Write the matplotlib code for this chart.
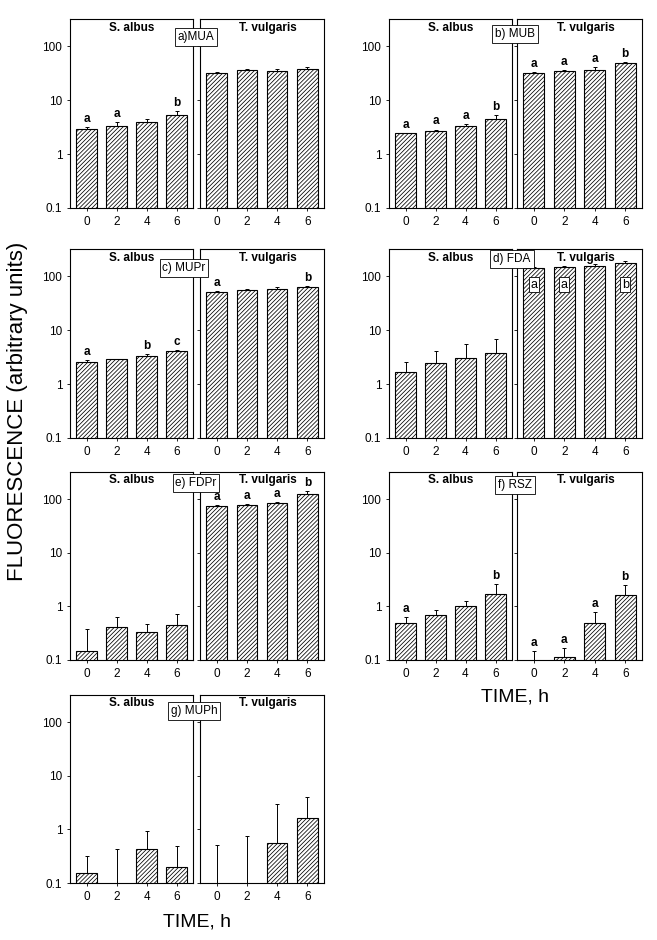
"""
fluorescence of S. albus / T. vulgaris over time, 7 substrates (log bars)
"""

import numpy as np
import matplotlib.pyplot as plt
from matplotlib.ticker import NullLocator

plt.rcParams['font.family'] = ['Liberation Sans', 'DejaVu Sans']
plt.rcParams['hatch.linewidth'] = 0.55
plt.rcParams['hatch.color'] = 'black'

times = [0, 2, 4, 6]
yticks = [0.1, 1, 10, 100]

# mean values and upper error (SE), 0 = no visible bar
mua_sa = [2.9, 3.3, 4.0, 5.2]
mua_sa_err = [0.3, 0.6, 0.4, 1.0]
mua_tv = [32.5, 36, 35, 38]
mua_tv_err = [1.0, 1.5, 3.5, 4.0]
mua_sa_let = ['a', 'a', '', 'b']
mua_tv_let = ['', '', '', '']

mub_sa = [2.45, 2.7, 3.3, 4.5]
mub_sa_err = [0.05, 0.15, 0.3, 0.8]
mub_tv = [32, 34.5, 35.5, 48.5]
mub_tv_err = [1.0, 1.5, 5.0, 1.5]
mub_sa_let = ['a', 'a', 'a', 'b']
mub_tv_let = ['a', 'a', 'a', 'b']

mupr_sa = [2.6, 2.9, 3.3, 4.1]
mupr_sa_err = [0.15, 0.05, 0.25, 0.25]
mupr_tv = [51, 55, 59, 63]
mupr_tv_err = [3, 3, 3, 3]
mupr_sa_let = ['a', '', 'b', 'c']
mupr_tv_let = ['a', '', '', 'b']

fda_sa = [1.7, 2.45, 3.0, 3.85]
fda_sa_err = [0.9, 1.65, 2.6, 3.05]
fda_tv = [140, 148, 155, 178]
fda_tv_err = [8, 9, 13, 17]
fda_sa_let = ['', '', '', '']
fda_tv_let = ['a', 'a', '', 'b']  # boxed, inside the bars

fdpr_sa = [0.148, 0.42, 0.326, 0.45]
fdpr_sa_err = [0.227, 0.2, 0.134, 0.28]
fdpr_tv = [75, 78.5, 85, 122]
fdpr_tv_err = [2, 2.5, 2, 21]
fdpr_sa_let = ['', '', '', '']
fdpr_tv_let = ['a', 'a', 'a', 'b']

rsz_sa = [0.48, 0.70, 1.0, 1.7]
rsz_sa_err = [0.16, 0.17, 0.27, 0.9]
rsz_tv = [0, 0.114, 0.5, 1.62]
rsz_tv_err = [0.148, 0.056, 0.28, 0.88]
rsz_sa_let = ['a', '', '', 'b']
rsz_tv_let = ['a', 'a', 'a', 'b']

muph_sa = [0.153, 0, 0.43, 0.2]
muph_sa_err = [0.167, 0.43, 0.49, 0.3]
muph_tv = [0, 0, 0.56, 1.64]
muph_tv_err = [0.51, 0.75, 2.44, 2.36]
muph_sa_let = ['', '', '', '']
muph_tv_let = ['', '', '', '']

W, H = 657, 940
fig = plt.figure(figsize=(W / 100, H / 100), dpi=100)

# (name, data..., column, row, label box centre in px, boxed letters)
panels = [
    ('a)MUA', mua_sa, mua_sa_err, mua_sa_let, mua_tv, mua_tv_err, mua_tv_let, 0, 0, (196, 37), False),
    ('b) MUB', mub_sa, mub_sa_err, mub_sa_let, mub_tv, mub_tv_err, mub_tv_let, 1, 0, (515, 34), False),
    ('c) MUPr', mupr_sa, mupr_sa_err, mupr_sa_let, mupr_tv, mupr_tv_err, mupr_tv_let, 0, 1, (184, 268), False),
    ('d) FDA', fda_sa, fda_sa_err, fda_sa_let, fda_tv, fda_tv_err, fda_tv_let, 1, 1, (512, 259), True),
    ('e) FDPr', fdpr_sa, fdpr_sa_err, fdpr_sa_let, fdpr_tv, fdpr_tv_err, fdpr_tv_let, 0, 2, (196, 483), False),
    ('f) RSZ', rsz_sa, rsz_sa_err, rsz_sa_let, rsz_tv, rsz_tv_err, rsz_tv_let, 1, 2, (515, 485), False),
    ('g) MUPh', muph_sa, muph_sa_err, muph_sa_let, muph_tv, muph_tv_err, muph_tv_let, 0, 3, (194, 711), False),
]

rows = [(19, 208), (249, 438), (472, 660), (695, 883)]
cols = [[(70, 193), (200, 324)], [(389, 512), (517, 642)]]


def px_axes(x0, x1, y0, y1):
    return fig.add_axes([x0 / W, 1 - y1 / H, (x1 - x0) / W, (y1 - y0) / H])


def draw_half(ax, mean, err, letters, species, first, boxed):
    x = np.arange(len(times))
    mean = np.array(mean, dtype=float)
    err = np.array(err, dtype=float)
    ax.set_yscale('log', nonpositive='clip')
    ax.bar(x, mean, width=0.68, color='white', edgecolor='black',
           hatch='////////', lw=0.8, zorder=2)
    ax.errorbar(x, mean, yerr=[np.zeros(len(x)), err], fmt='none',
                ecolor='black', elinewidth=0.7, capsize=1.3, capthick=0.7, zorder=3)
    for i, let in enumerate(letters):
        if not let:
            continue
        if boxed:
            ax.text(x[i], 70, let, ha='center', va='center', fontsize=9,
                    bbox=dict(facecolor='white', edgecolor='black', lw=0.6, pad=1.2), zorder=4)
        else:
            ax.annotate(let, (x[i], mean[i] + err[i]), xytext=(0, 1.5),
                        textcoords='offset points', ha='center', va='bottom',
                        fontsize=8.5, fontweight='bold')
    ax.set_xlim(-0.55, 3.55)
    ax.set_ylim(0.1, 320)
    ax.set_xticks(x)
    ax.set_xticklabels([str(t) for t in times])
    ax.set_yticks(yticks)
    ax.yaxis.set_minor_locator(NullLocator())
    if first:
        ax.set_yticklabels(['0.1', '1', '10', '100'])
    else:
        ax.set_yticklabels([])
    ax.tick_params(length=2.5, width=0.6, labelsize=8.5, pad=3)
    for s in ax.spines.values():
        s.set_linewidth(0.8)
    ax.text(0.5 if first else 0.55, 0.955, species, transform=ax.transAxes,
            ha='center', va='center', fontsize=8.5, fontweight='bold', zorder=5)


for (name, sa, sa_e, sa_l, tv, tv_e, tv_l, c, r, lab, boxed) in panels:
    y0, y1 = rows[r]
    (a0, a1), (b0, b1) = cols[c]
    ax1 = px_axes(a0, a1, y0, y1)
    ax2 = px_axes(b0, b1, y0, y1)
    draw_half(ax1, sa, sa_e, sa_l, 'S. albus', True, False)
    draw_half(ax2, tv, tv_e, tv_l, 'T. vulgaris', False, boxed)
    fig.text(lab[0] / W, 1 - lab[1] / H, name, ha='center', va='center', fontsize=8.5,
             bbox=dict(facecolor='white', edgecolor='black', lw=0.6, pad=2.0), zorder=10)

fig.text(18 / W, 1 - 411 / H, 'FLUORESCENCE (arbitrary units)', rotation=90,
         ha='center', va='center', fontsize=16)
fig.text(515 / W, 1 - 697 / H, 'TIME, h', ha='center', va='center', fontsize=14)
fig.text(197 / W, 1 - 922 / H, 'TIME, h', ha='center', va='center', fontsize=14)

fig.savefig('out.png', dpi=100)
